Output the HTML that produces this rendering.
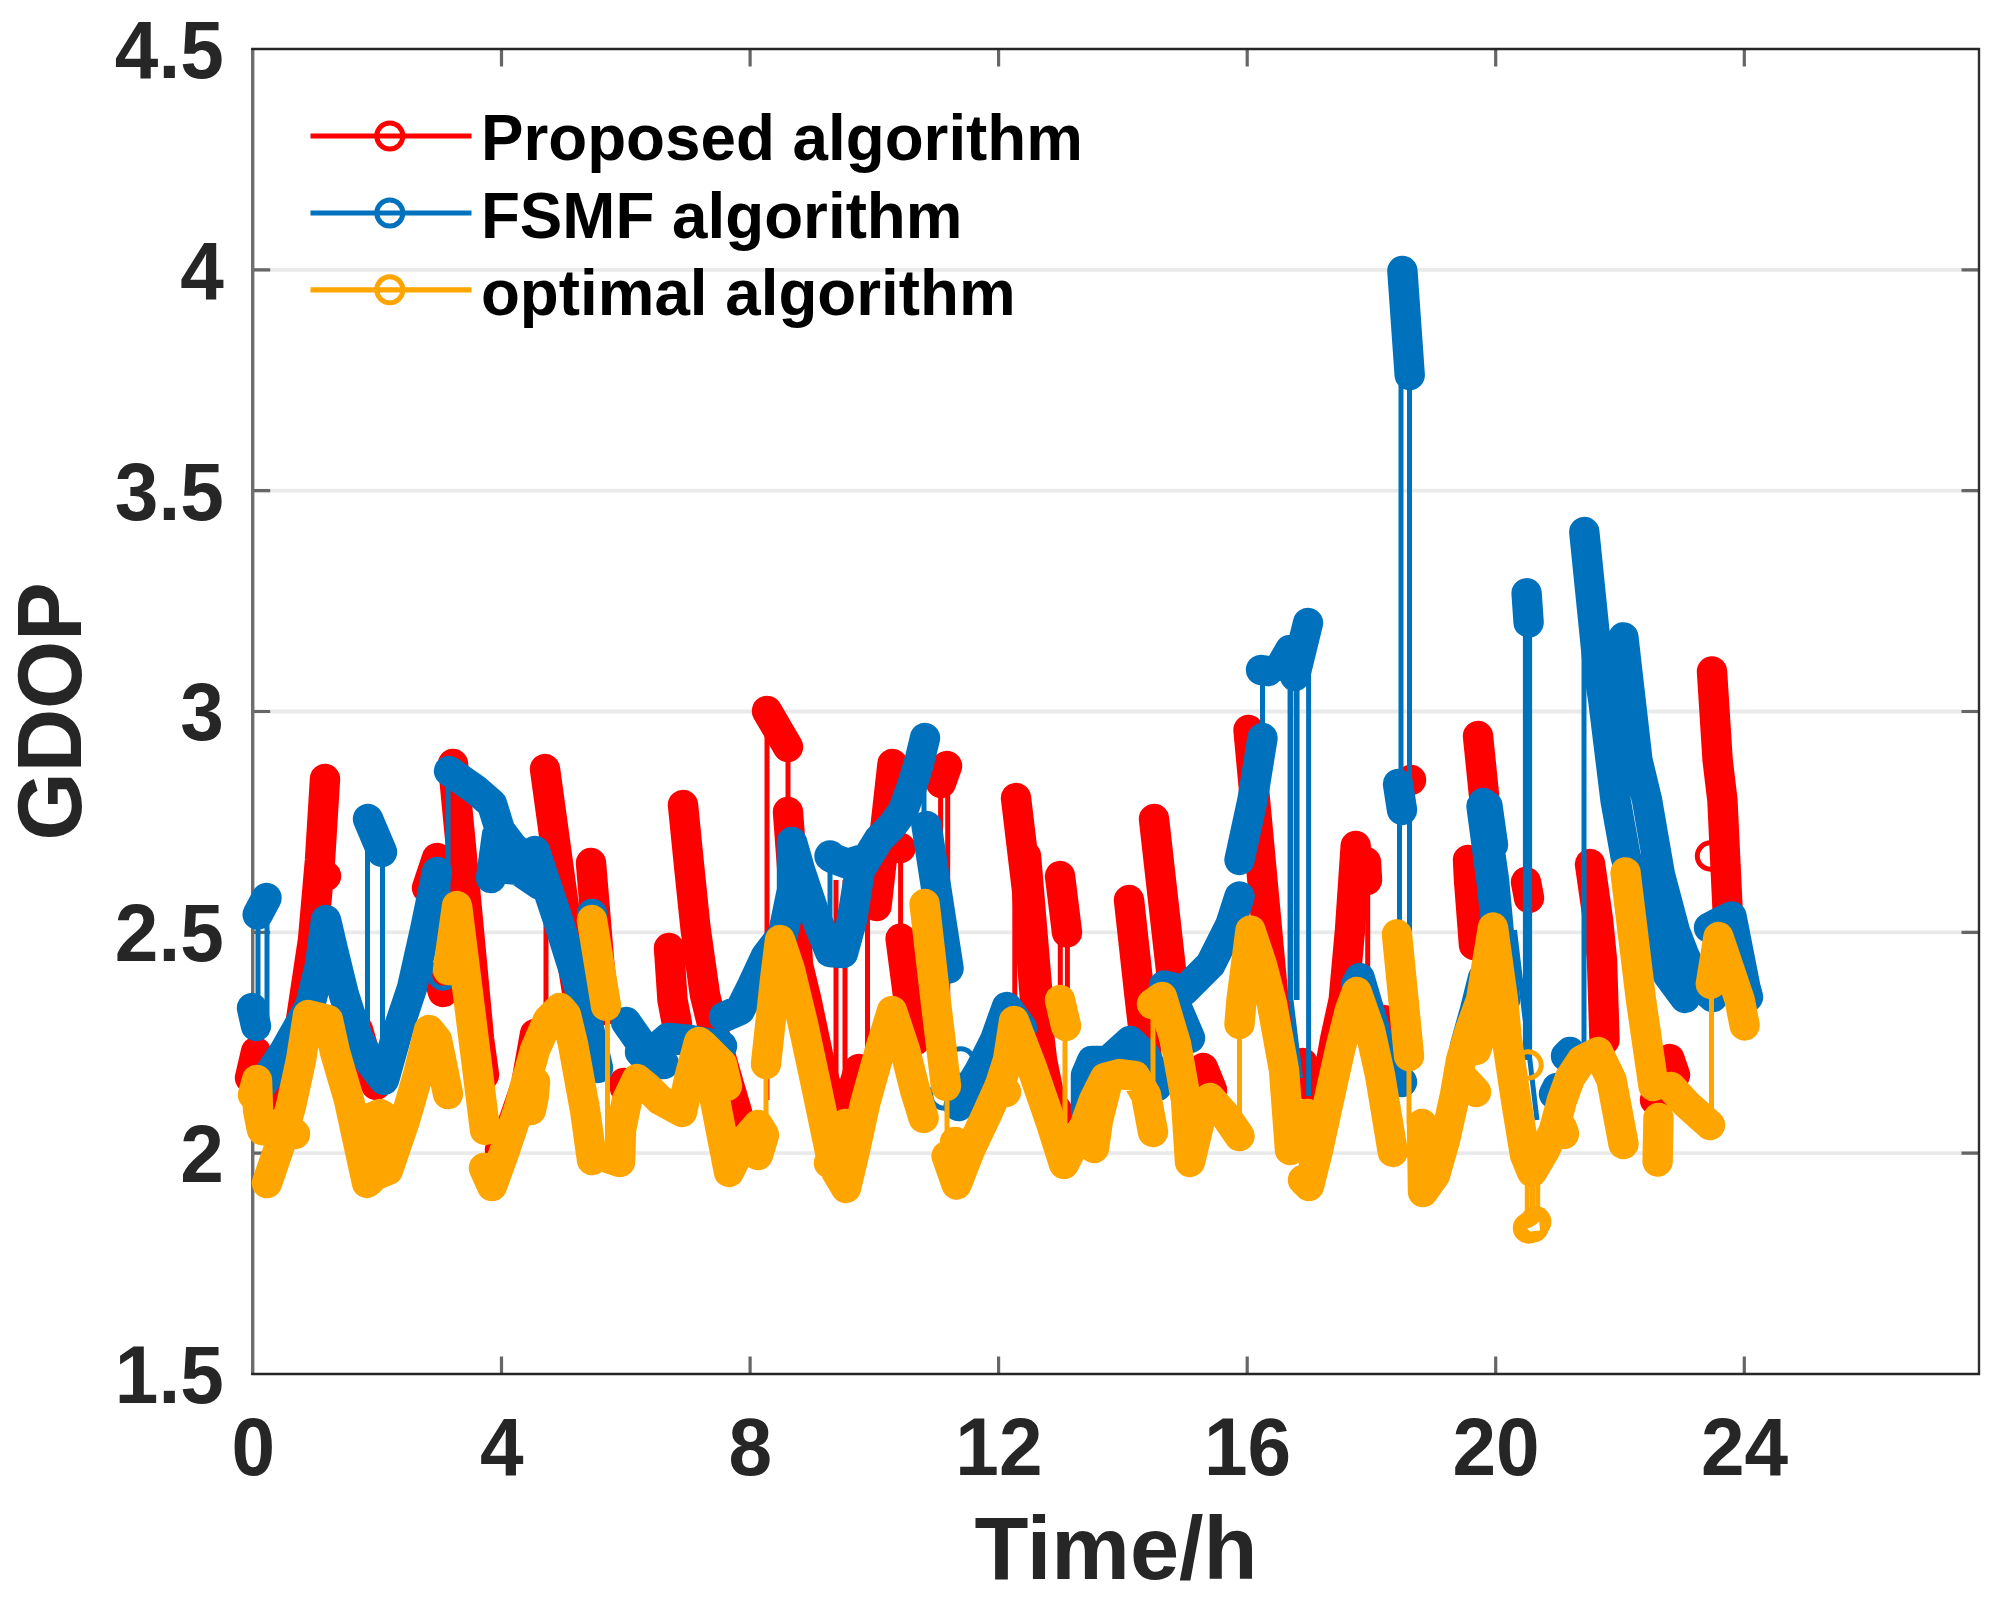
<!DOCTYPE html>
<html lang="en">
<head>
<meta charset="utf-8">
<title>GDOP comparison</title>
<style>
html,body{margin:0;padding:0;background:#fff;}
body{width:2001px;height:1597px;overflow:hidden;font-family:"Liberation Sans",Arial,Helvetica,sans-serif;}
svg{display:block;}
</style>
</head>
<body>
<svg width="2001" height="1597" viewBox="0 0 2001 1597">
<rect width="2001" height="1597" fill="#fff"/>
<path d="M252.7 1153.2 H1979 M252.7 932.3 H1979 M252.7 711.5 H1979 M252.7 490.7 H1979 M252.7 269.8 H1979" stroke="#eaeaea" stroke-width="3.8" fill="none"/>
<path d="M501.5 1374 v-17.5 M501.5 49 v17.5 M750.1 1374 v-17.5 M750.1 49 v17.5 M998.6 1374 v-17.5 M998.6 49 v17.5 M1247.2 1374 v-17.5 M1247.2 49 v17.5 M1495.7 1374 v-17.5 M1495.7 49 v17.5 M1744.3 1374 v-17.5 M1744.3 49 v17.5 M252.7 1153.2 h17.5 M1979 1153.2 h-17.5 M252.7 932.3 h17.5 M1979 932.3 h-17.5 M252.7 711.5 h17.5 M1979 711.5 h-17.5 M252.7 490.7 h17.5 M1979 490.7 h-17.5 M252.7 269.8 h17.5 M1979 269.8 h-17.5" stroke="#666" stroke-width="3.2" fill="none"/>
<path d="M252.7 48 V1375" stroke="#6e6e6e" stroke-width="3.4" fill="none"/>
<path d="M1979 48 V1375" stroke="#2e2e2e" stroke-width="2.4" fill="none"/>
<path d="M251.2 49 H1980 M251.2 1374 H1980" stroke="#262626" stroke-width="2.4" fill="none"/>
<g id="series">
<g fill="none" stroke="#ff0000" stroke-linecap="round" stroke-linejoin="round">
<path stroke-width="5.0" stroke-linecap="butt" d="M546 769 L546 1034 M767 711 L767 1100 M788 747 L788 812 M836 880 L836 1110 M845 880 L845 1110 M867.5 906 L867.5 1069 M940.6 790 L940.6 1000 M947.7 766 L947.7 1000 M900.6 848 L900.6 938 M1014.8 798 L1014.8 1020 M1060.3 932 L1060.3 990 M1067.4 932 L1067.4 990 M1367.7 887 L1367.7 1020"/>
<path stroke-width="30.4" d="M250 1078 L256 1052 M272 1095 L285 1075 L296 1050 L301 1020 L313 940 L320 860 L325 779 M326 876 l0.01 0 M358 1030 L366 1058 L376 1085 M427 888 L437 858 M441 985 L443 992 M453 764 L466 900 L479 1039 L484 1075 M545 769 L563 900 L572 960 L580 1010 M500 1150 L514 1120 L526 1085 L535 1034 M591 863 L599 960 L604 1010 M624 1083 L625 1088 M669 948 L672.5 1000 L677 1024 M683 805 L689 865 L695.5 928 L705 995 L716 1040 L729 1085 L737 1112 M767 711 L788 747 M788 812 L793 880 L798 965 L806 998 L818 1055 L832 1110 L846 1112 L859 1069 M876.5 906 L884 840 L892.5 764 M941 783 L947 766 M900.6 848 l0.01 0 M900.6 938.5 L908.6 1000 L915.6 1040 M1016 798 L1027 890 L1035 1000 L1042 1060 L1050 1100 L1058 1112 M1026 856 L1038 1000 M1060 876 L1067 932.5 M1129 900 L1140 1000 L1147 1060 M1154 819 L1171 970 L1178 1030 M1203 1068 L1212 1090 M1248.5 730 L1273.5 1000 L1285 1060 M1302.6 1063 L1308 1085 M1325 1092 L1327 1085 L1335 1040 L1343.7 1000 L1350 930 L1355.7 846 M1366 862 L1367 880 M1384 1020 L1386 1030 M1411 780 l0.01 0 M1478 736 L1484 795 M1468 860 L1469 880 L1474 945 M1526 882 L1529 898 M1590 864 L1598 920 L1602 960 L1604.5 1040 M1669.5 1059 L1675 1075 M1655 1100 l0.01 0 M1712 671.5 L1717.6 760 L1722.4 800 L1727.7 912 L1741.8 997"/>
<circle cx="1710.5" cy="856" r="13.2" stroke-width="5.0"/>
</g>
<g fill="none" stroke="#0072bd" stroke-linecap="round" stroke-linejoin="round">
<path stroke-width="5.0" stroke-linecap="butt" d="M258 912 L258 1010 M267 897 L267 1030 M367.5 819 L367.5 1075 M382.5 852 L382.5 1080 M448 771 L448 975 M830 856 L830 952 M924 738 L924 828 M1262.5 670 L1262.5 738 M1291 1000 L1300.5 1078 M1308.6 623 L1308.6 1096 M1401 375 L1401 784 M1409.5 375 L1409.5 784 M1399.5 810 L1399.5 1050 M1409.5 784 L1409.5 1050 M1514.5 930 L1537 1120 M1525.4 622 L1525.4 1060 M1529.6 622 L1529.6 1060 M1584 532 L1584 1044"/>
<path stroke-width="5.7" stroke-linecap="butt" d="M1290.4 676 L1290.4 1000 M1296.7 676 L1296.7 1000"/>
<path stroke-width="30.4" d="M257.7 914.5 L266.5 898 M252 1008 L256 1026 M262 1085 L284 1052 L310 1006 L320 965 L326 920 L333 950 L344 995 L357 1035 L370 1062 L384 1080 L398 1030 L412 988 L425 930 L437 872 M368 819 L382 852 M449 771 L476 790 L492 804 L500 830 L512 846 L522 856 M491 878 L497 835 M500 868 L518 870 L540 885 M592 914 l0.01 0 M535 851 L558 920 L580 990 L598 1068 M626 1022 L640 1042 L652 1052 L668 1038 L690 1040 L722 1046 M640 1052 L652 1064 L664 1064 M724 1017 L740 1010 L752 986 L766 956 L783 934 L792 890 L792 842 L800 870 L815 915 L830 952 L843 953 L852 920 L860 870 L879 839 L892 826 L903 811 L912 786 L919 763 L925 738 M832 858 L848 864 L860 860 M926.6 826 L948.6 968.6 M958.7 1106 L968 1090 L980 1070 L995 1040 L1006.8 1007 L1022 1028 M1086 1112 L1086 1075 L1092 1061 L1108 1061 L1130 1041 L1145 1055 L1153 1072 L1157 1086 M1164 986 L1178 1010 L1190 1038 M1164.3 985.6 L1184.4 990.6 L1210.4 964.6 L1230.5 924.5 L1239.5 896.4 M1239.5 860 L1252.5 800 L1262.5 738 M1261 670 L1268 671 M1282 664 L1290 650 M1295 676 L1308 623 M1356 985 L1359.7 978 L1375 1030 L1385 1075 L1402 1082 M1398 784 L1402 810 M1402.4 271 L1409.7 375 M1465 1046 L1475 1010 L1483 978 M1483 803 L1494 880 L1505 1000 M1481.5 806 L1492 885 L1500 960 M1487.5 806 L1493 845 M1526.6 593.3 L1528.6 622.4 M1554 1094 L1557 1088 M1566 1056 L1570 1052 M1584.3 532 L1597.3 660.4 L1603.3 700.5 L1615.5 800 L1625.5 856 L1638 900 L1652 940 L1668 975 L1685 998 M1623.4 637.4 L1637.4 760 L1647 800 L1660 875 L1675 931.5 L1684.5 956 L1697.7 984 L1712.7 997 M1709 927.7 L1720 922 L1731.5 916.4 L1745.5 987.8 L1748 997"/>
<circle cx="443" cy="975" r="13.2" stroke-width="5.0"/>
<circle cx="830" cy="856" r="13.2" stroke-width="5.0"/>
<circle cx="960.7" cy="1062" r="13.2" stroke-width="5.0"/>
<circle cx="944" cy="1095" r="13.2" stroke-width="5.0"/>
</g>
<g fill="none" stroke="#ffa500" stroke-linecap="round" stroke-linejoin="round">
<path stroke-width="5.0" stroke-linecap="butt" d="M607.5 1006 L607.5 1150 M766 1064 L766 1125 M947 1086 L947 1156 M1065 1026 L1065 1150 M1153 1004 L1153 1132 M1239.5 1024 L1239.5 1136 M1409 1056 L1409 1124 M1527.3 1172 L1527.3 1212 M1532.5 1172 L1532.5 1212 M1537.7 1172 L1537.7 1212 M1711.5 984 L1711.5 1125"/>
<path stroke-width="30.4" d="M253 1095 L257 1080 L258 1110 L262 1130 L280 1133 L295 1134 M267 1183 L280 1145 L291 1106 L301 1060 L308 1015 L328 1020 L335 1052 L349 1100 L367 1183 L376 1175 L388 1170 L405 1120 L418 1075 L429 1030 L437 1040 L448 1094 M370 1118 L380 1114 L392 1122 M378 1138 L380 1160 M448 970 L457 906 L465 970 L485 1130 M484 1168 L492 1186 L505 1150 L519 1108 L535 1050 L548 1020 L560 1008 L566 1015 L573 1044 L585 1110 L592 1160 M535 1082 L533.5 1098 L531 1110 M592 920 L606 1006 M608 1158 L620 1162 L621 1130 L627 1100 L637 1079 L648 1088 L660 1100 L682 1112 L690 1075 L699 1042 L708 1070 L715 1100 L729 1172 L745 1140 L758 1125 L764 1135 L758 1155 M703 1045 L722 1064 L727 1086 M766 1064 L775 980 L780 940 L790 970 L803 1024 L815 1080 L833 1166 L846 1188 L855 1150 L865 1104 L880 1050 L892 1011 L905 1050 L915 1090 L923.6 1118 M829 1163 l0.01 0 M837 1128 L845 1124 M924.6 904 L935.6 1000 L946 1086 M946.6 1156 L956.6 1184.5 L970 1150 L987 1114 L1000 1085 L1008 1060 L1014 1021 L1032 1068 L1050 1120 L1064 1164 L1075 1142 L1085 1125 L1094 1100 M1006 1092 l0.01 0 M955 1142 l0.01 0 M1060 1000 L1066 1026 M1094 1100 L1105 1078 L1120 1074 L1135 1076 L1146 1095 L1153 1132 M1094 1148 L1098 1120 L1106 1088 M1152 1004 L1162 997 L1176 1044 L1186 1100 L1190 1162 L1200 1120 L1210 1098 L1225 1115 L1239.5 1136 M1239.5 1024 L1241.5 1000 L1250.5 930.5 L1262 965 L1272 1004 L1284 1070 L1290 1150 M1307 1114 L1305 1135 M1303 1180 L1309 1186 L1318 1150 L1328 1104 L1340 1050 L1350 1010 L1356.7 992 L1370 1030 L1380 1075 L1392.8 1152 M1397 934.5 L1409 1056 M1422 1124 L1423 1192 L1435 1175 L1445 1140 L1455 1095 L1461 1060 L1470 1030 L1481 1000 L1493 927.5 L1503 1000 L1507 1040 L1516 1100 L1525 1155 L1532 1172 L1545 1150 L1554 1130 L1562 1100 L1570 1078 L1582 1060 L1598 1052 L1611.5 1080 L1623.5 1144 M1465 1080 L1476 1092 M1476 1050 L1484 1025 L1490 1000 M1562 1128 L1564 1134 M1625.5 872.4 L1641 1000 L1653.5 1086 M1657.6 1161.5 L1658.5 1118 M1671 1087 L1686.5 1104 L1710 1125 M1710.8 984 L1718.5 937 L1739.7 1000 L1744.6 1025.4"/>
<circle cx="1528" cy="1065" r="13.2" stroke-width="5.0"/>
<g stroke="none"><circle cx="1528.5" cy="1228" r="15.7" fill="#ffa500"/><circle cx="1535.7" cy="1221.8" r="15.7" fill="#ffa500"/><circle cx="1533" cy="1227" r="15.7" fill="#ffa500"/><path d="M1527.2 1228.4 Q1533.5 1227.5 1539.2 1221.6 L1540 1230.6 L1530 1231.4 Z" fill="#fff"/></g>
</g>
</g>
<g font-family="'Liberation Sans', Arial, Helvetica, sans-serif" font-weight="bold">
<text transform="translate(223.8 77.9) scale(0.992 1.025)" font-size="79" text-anchor="end" fill="#262626">4.5</text>
<text transform="translate(223.8 298.73) scale(0.992 1.025)" font-size="79" text-anchor="end" fill="#262626">4</text>
<text transform="translate(223.8 519.57) scale(0.992 1.025)" font-size="79" text-anchor="end" fill="#262626">3.5</text>
<text transform="translate(223.8 740.4) scale(0.992 1.025)" font-size="79" text-anchor="end" fill="#262626">3</text>
<text transform="translate(223.8 961.23) scale(0.992 1.025)" font-size="79" text-anchor="end" fill="#262626">2.5</text>
<text transform="translate(223.8 1182.07) scale(0.992 1.025)" font-size="79" text-anchor="end" fill="#262626">2</text>
<text transform="translate(223.8 1402.9) scale(0.992 1.025)" font-size="79" text-anchor="end" fill="#262626">1.5</text>
<text transform="translate(253.3 1475.2) scale(0.992 1.025)" font-size="79" text-anchor="middle" fill="#262626">0</text>
<text transform="translate(501.84 1475.2) scale(0.992 1.025)" font-size="79" text-anchor="middle" fill="#262626">4</text>
<text transform="translate(750.39 1475.2) scale(0.992 1.025)" font-size="79" text-anchor="middle" fill="#262626">8</text>
<text transform="translate(998.93 1475.2) scale(0.992 1.025)" font-size="79" text-anchor="middle" fill="#262626">12</text>
<text transform="translate(1247.48 1475.2) scale(0.992 1.025)" font-size="79" text-anchor="middle" fill="#262626">16</text>
<text transform="translate(1496.02 1475.2) scale(0.992 1.025)" font-size="79" text-anchor="middle" fill="#262626">20</text>
<text transform="translate(1744.56 1475.2) scale(0.992 1.025)" font-size="79" text-anchor="middle" fill="#262626">24</text>
<text transform="translate(1116 1578.7) scale(1.004 1.012)" font-size="88" text-anchor="middle" fill="#262626">Time/h</text>
<text transform="translate(81 711.3) rotate(-90) scale(0.997 1.03)" font-size="88" text-anchor="middle" fill="#262626">GDOP</text>
<path d="M310.5 136 H471.5" stroke="#ff0000" stroke-width="5.2" fill="none"/>
<circle cx="389.8" cy="136" r="13" stroke="#ff0000" stroke-width="5" fill="none"/>
<text transform="translate(480.9 159.7) scale(1.012 1.035)" font-size="63" text-anchor="start" fill="#000">Proposed algorithm</text>
<path d="M310.5 213 H471.5" stroke="#0072bd" stroke-width="5.2" fill="none"/>
<circle cx="389.8" cy="213" r="13" stroke="#0072bd" stroke-width="5" fill="none"/>
<text transform="translate(480.9 237.5) scale(1.012 1.035)" font-size="63" text-anchor="start" fill="#000">FSMF algorithm</text>
<path d="M310.5 289.8 H471.5" stroke="#ffa500" stroke-width="5.2" fill="none"/>
<circle cx="389.8" cy="289.8" r="13" stroke="#ffa500" stroke-width="5" fill="none"/>
<text transform="translate(480.9 315.2) scale(1.012 1.035)" font-size="63" text-anchor="start" fill="#000">optimal algorithm</text>
</g>
</svg>
</body>
</html>
